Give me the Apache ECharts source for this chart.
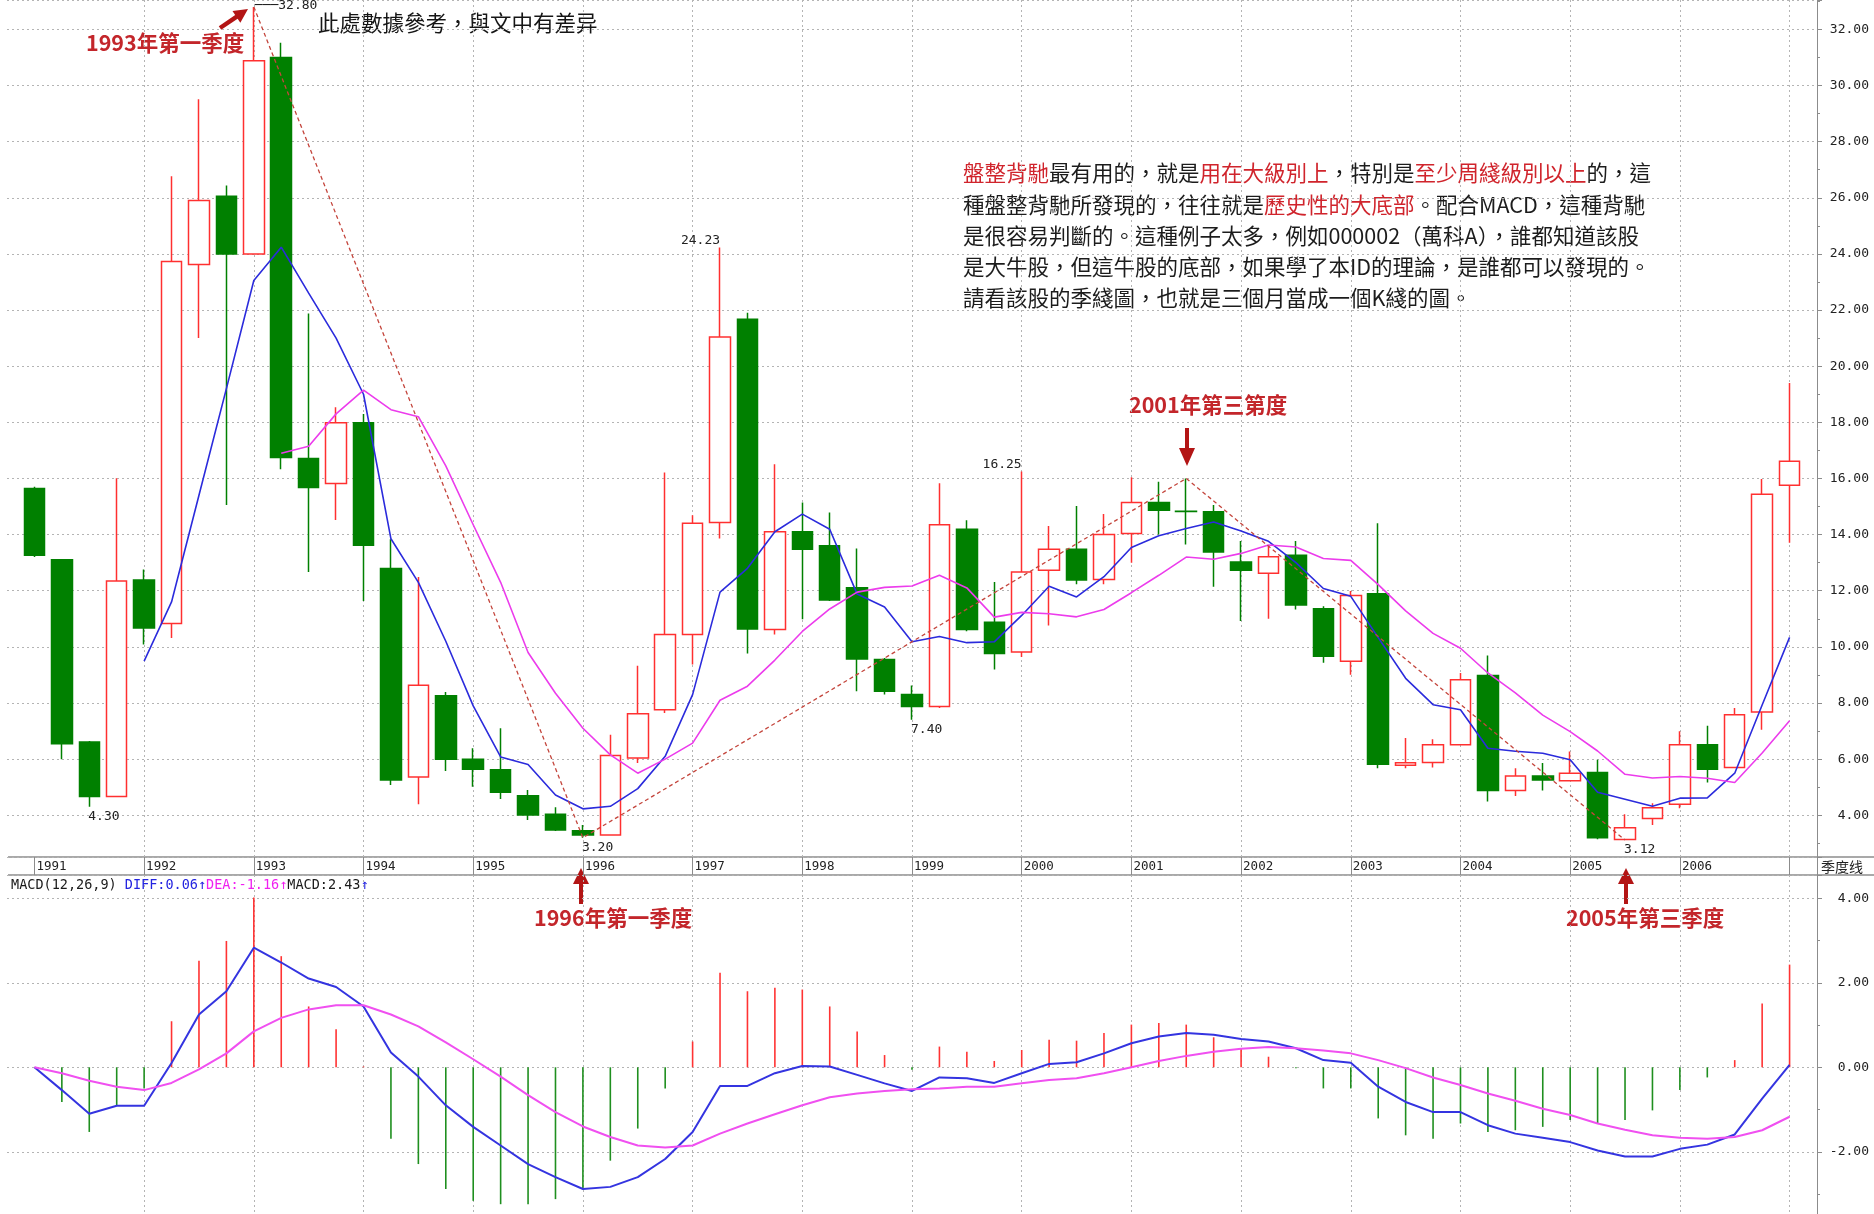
<!DOCTYPE html>
<html><head><meta charset="utf-8">
<script src="https://cdn.jsdelivr.net/npm/echarts@6/dist/echarts.min.js"></script>
<style>html,body{margin:0;padding:0;background:#fff}#c{width:1874px;height:1214px}</style>
</head><body><div id="c"></div>
<script>
// ---------- data ----------
const years = ['1991','1992','1993','1994','1995','1996','1997','1998','1999','2000','2001','2002','2003','2004','2005','2006','2007'];
const quarters = [];
years.forEach(y => { for (let q = 1; q <= 4; q++) { if (y === '2007' && q > 1) break; quarters.push(y + 'Q' + q); } });

const open  = [15.64,13.10,6.61,4.67, 12.38,10.83,23.62,26.05, 24.00,31.00,16.71,15.82, 17.98,12.79,5.36,8.26, 6.00,5.62,4.70,4.04,
               3.45,3.30,6.04,7.76, 10.44,14.43,21.67,10.62, 14.10,13.60,12.11,9.55, 8.30,7.88,14.19,10.88, 9.82,12.73,13.48,12.40,
               14.04,15.14,14.83,14.81, 13.02,12.62,13.26,11.36, 9.49,11.89,5.78,5.88, 6.51,8.98,4.88,5.40, 5.23,5.52,3.14,3.89,
               4.39,6.51,5.70,7.68, 15.76];
const close = [13.26,6.55,4.67,12.35, 10.67,23.73,25.90,24.00, 30.88,16.75,15.68,17.98, 13.62,5.26,8.63,6.00, 5.64,4.82,4.01,3.48,
               3.30,6.13,7.62,10.44, 14.40,21.04,10.64,14.10, 13.48,11.67,9.57,8.42, 7.88,14.35,10.62,9.76, 12.67,13.48,12.38,14.00,
               15.14,14.87,14.82,13.38, 12.73,13.21,11.49,9.67, 11.83,5.82,5.87,6.51, 8.83,4.88,5.40,5.26, 5.50,3.20,3.56,4.27,
               6.51,5.64,7.58,15.44, 16.61];
const low   = [13.20,6.00,4.30,4.67, 10.08,10.32,21.00,15.05, 24.00,16.33,12.67,14.52, 11.63,5.08,4.39,5.58, 5.02,4.58,3.83,3.44,
               3.20,3.28,5.86,7.64, 9.37,13.86,9.76,10.44, 10.98,11.63,8.42,8.30, 7.40,7.82,10.56,9.19, 9.64,10.76,12.23,12.23,
               13.00,14.00,13.65,12.14, 10.92,11.00,11.33,9.43, 9.01,5.68,5.68,5.70, 6.51,4.49,4.69,4.88, 5.20,3.15,3.12,3.65,
               4.25,5.17,5.70,7.05, 13.71];
const high  = [15.70,13.10,6.65,16.01, 12.76,26.77,29.51,26.44, 32.80,31.52,21.88,18.54, 18.30,13.83,12.49,8.39, 6.39,7.10,4.90,4.29,
               3.65,6.87,9.33,16.21, 14.69,24.23,21.90,16.51, 15.14,14.79,13.50,9.60, 8.62,15.83,14.51,12.31, 16.25,14.31,15.02,14.73,
               16.04,15.88,16.00,15.05, 13.77,13.60,13.77,11.45, 11.99,14.40,6.75,6.71, 9.07,9.69,5.68,5.86, 6.27,5.98,4.04,4.43,
               6.99,7.19,7.82,15.98, 19.40];

const ma5  = [null,null,null,null, 9.49,11.6,15.4,19.2, 23.05,24.24,22.6,21.0, 19.0,13.85,12.3,10.2, 7.9,6.08,5.81,4.72,
              4.23,4.32,4.95,6.1, 8.3,11.95,12.8,14.1, 14.73,14.19,11.88,11.42, 10.18,10.37,10.15,10.18, 11.12,12.16,11.78,12.5,
              13.54,13.96,14.22,14.45, 14.13,13.76,13.0,12.08, 11.8,10.33,8.88,7.94, 7.76,6.39,6.28,6.21, 5.98,4.82,4.57,4.32,
              4.61,4.62,5.5,7.93, 10.34];
const ma10 = [null,null,null,null, null,null,null,null, null,16.9,17.15,18.3, 19.15,18.45,18.2,16.45, 14.35,12.3,9.8,8.35,
              7.1,6.15,5.5,6.0, 6.57,8.1,8.6,9.53, 10.55,11.35,11.95,12.12, 12.17,12.55,12.1,11.06, 11.23,11.18,11.07,11.33,
              11.93,12.55,13.2,13.12, 13.33,13.63,13.56,13.15, 13.08,12.22,11.28,10.48, 9.95,9.07,8.36,7.57, 6.98,6.29,5.46,5.33,
              5.38,5.32,5.17,6.22, 7.37];

const macdHist = [0,-0.82,-1.53,-0.90,-0.50,1.09,2.52,2.99,4.02,2.63,
                  1.44,0.90,0.02,-1.69,-2.29,-2.88,-3.16,-3.24,-3.24,-3.12,
                  -2.88,-2.21,-1.45,-0.50,0.61,2.24,1.80,1.88,1.84,1.44,
                  0.85,0.29,-0.06,0.49,0.37,0.15,0.41,0.65,0.63,0.81,
                  1.01,1.05,1.01,0.71,0.45,0.25,-0.02,-0.50,-0.50,-1.21,
                  -1.61,-1.69,-1.33,-1.53,-1.49,-1.41,-1.25,-1.33,-1.25,-1.02,
                  -0.54,-0.24,0.17,1.51,2.43];
const diff = [0,-0.54,-1.10,-0.91,-0.91,0.10,1.25,1.80,2.83,2.48,
              2.10,1.90,1.44,0.35,-0.22,-0.90,-1.41,-1.85,-2.29,-2.60,
              -2.88,-2.83,-2.60,-2.17,-1.53,-0.44,-0.44,-0.14,0.03,0.02,
              -0.18,-0.38,-0.56,-0.24,-0.26,-0.37,-0.14,0.08,0.12,0.33,
              0.57,0.73,0.81,0.77,0.67,0.61,0.45,0.17,0.11,-0.46,
              -0.82,-1.06,-1.06,-1.37,-1.57,-1.67,-1.77,-1.97,-2.11,-2.11,
              -1.93,-1.83,-1.59,-0.74,0.06];
const dea = [0,-0.14,-0.32,-0.46,-0.54,-0.37,-0.05,0.33,0.85,1.17,
             1.37,1.47,1.47,1.25,0.97,0.59,0.19,-0.22,-0.66,-1.06,
             -1.40,-1.65,-1.85,-1.90,-1.85,-1.57,-1.33,-1.11,-0.90,-0.71,
             -0.62,-0.56,-0.52,-0.50,-0.46,-0.46,-0.38,-0.30,-0.26,-0.14,
             0.00,0.15,0.27,0.37,0.44,0.48,0.45,0.40,0.33,0.17,
             -0.02,-0.24,-0.42,-0.62,-0.79,-0.98,-1.13,-1.33,-1.48,-1.61,
             -1.67,-1.69,-1.65,-1.49,-1.17];

// divergence trend line vertices (quarter index, price)
const trendIdx = [8, 20, 42, 58];
const trendVal = [32.80, 3.20, 16.00, 3.12];

// extreme value labels
const extremeIdx  = [8, 25, 36, 32, 2, 20, 58];
const extremeVal  = [32.80, 24.23, 16.25, 7.40, 4.30, 3.20, 3.12];
const extremeKind = ['top', 'hi', 'hi', 'lo', 'lo', 'lo', 'lo'];

// ---------- build ----------
const cats = [''].concat(quarters, ['']);
const padL = a => ['-'].concat(a.map(v => v == null ? '-' : v), ['-']);
const kdata = [['-','-','-','-']];
for (let i = 0; i < quarters.length; i++) kdata.push([open[i], close[i], low[i], high[i]]);
kdata.push(['-','-','-','-']);
const trend = quarters.map(() => null);
trendIdx.forEach((k, j) => { trend[k] = trendVal[j]; });

const isYear = (i, v) => typeof v === 'string' && v.endsWith('Q1');
const MONO = "'DejaVu Sans Mono', monospace";
const CJK = "'Noto Sans CJK TC', 'Noto Sans CJK SC', sans-serif";
const RED_TXT = '#c3262b';
const ARROW = '#b31515';
const GRIDC = '#b4b4b4';

const markData = extremeIdx.map((k, j) => {
  const kind = extremeKind[j];
  let label;
  if (kind === 'top') label = {align: 'left', verticalAlign: 'middle', offset: [1, -1], formatter: '───' + extremeVal[j].toFixed(2)};
  else if (kind === 'hi') label = {align: 'right', verticalAlign: 'bottom', offset: [0, 0], formatter: extremeVal[j].toFixed(2)};
  else label = {align: 'left', verticalAlign: 'top', offset: [-1, 3], formatter: extremeVal[j].toFixed(2)};
  return {coord: [quarters[k], extremeVal[j]], label: label};
});

function arrowV(x, tipY, baseY, tailY, hw, sw) {
  return {type: 'polygon', silent: true, shape: {points: [
    [x - sw, tailY], [x - sw, baseY], [x - hw, baseY], [x, tipY], [x + hw, baseY], [x + sw, baseY], [x + sw, tailY]
  ]}, style: {fill: ARROW}};
}
function arrowD(tx, ty, px, py, hl, hw, sw) {
  const L = Math.hypot(px - tx, py - ty), dx = (px - tx) / L, dy = (py - ty) / L;
  const nx = -dy, ny = dx;
  const bx = px - hl * dx, by = py - hl * dy;
  return {type: 'polygon', silent: true, shape: {points: [
    [tx + sw * nx, ty + sw * ny], [bx + sw * nx, by + sw * ny], [bx + hw * nx, by + hw * ny], [px, py],
    [bx - hw * nx, by - hw * ny], [bx - sw * nx, by - sw * ny], [tx - sw * nx, ty - sw * ny]
  ]}, style: {fill: ARROW}};
}
const txt = (x, y, text, font, color) => ({type: 'text', x: x, y: y, silent: true,
  style: {text: text, fill: color, font: font, textVerticalAlign: 'middle'}});

const richStyles = {
  k: {fill: '#1c1c1c', font: '21.5px ' + CJK},
  r: {fill: '#d0242c', font: '21.5px ' + CJK}
};
const para = [
  '{r|盤整背馳}{k|最有用的，就是}{r|用在大級別上}{k|，特別是}{r|至少周綫級別以上}{k|的，這}',
  '{k|種盤整背馳所發現的，往往就是}{r|歷史性的大底部}{k|。配合MACD，這種背馳}',
  '{k|是很容易判斷的。這種例子太多，例如000002（萬科A），誰都知道該股}',
  '{k|是大牛股，但這牛股的底部，如果學了本ID的理論，是誰都可以發現的。}',
  '{k|請看該股的季綫圖，也就是三個月當成一個K綫的圖。}'
];
const paraY = [173, 205, 236, 267, 298];
const REDFONT = 'bold 21.5px ' + CJK;

const graphics = [
  {type: 'line', silent: true, shape: {x1: 8, y1: 857, x2: 1874, y2: 857}, style: {stroke: '#8c8c8c', lineWidth: 1.5}},
  {type: 'line', silent: true, shape: {x1: 8, y1: 875, x2: 1874, y2: 875}, style: {stroke: '#8c8c8c', lineWidth: 1.5}},
  {type: 'line', silent: true, shape: {x1: 1817.5, y1: 857, x2: 1817.5, y2: 875}, style: {stroke: '#8c8c8c', lineWidth: 1}},
  txt(1821, 867, '季度线', "14px 'Noto Sans CJK SC', sans-serif", '#222'),
  txt(86, 43, '1993年第一季度', REDFONT, RED_TXT),
  txt(318, 23, '此處數據參考，與文中有差异', '21.5px ' + CJK, '#151515'),
  txt(1129, 405, '2001年第三第度', REDFONT, RED_TXT),
  txt(534, 918, '1996年第一季度', REDFONT, RED_TXT),
  txt(1566, 918, '2005年第三季度', REDFONT, RED_TXT),
  arrowD(220, 28, 248, 9, 14, 7, 2.2),
  arrowV(1187, 466, 448, 428, 8, 2),
  arrowV(581, 868, 884, 904, 8, 2),
  arrowV(1626, 868, 884, 904, 8, 2),
  {type: 'text', x: 11, y: 885, silent: true, style: {
    text: '{k|MACD(12,26,9) }{b|DIFF:0.06↑}{m|DEA:-1.16↑}{k|MACD:2.43}{b|↑}',
    textVerticalAlign: 'middle',
    rich: {
      k: {fill: '#1a1a1a', font: '13.5px ' + MONO},
      b: {fill: '#2323e0', font: '13.5px ' + MONO},
      m: {fill: '#f020f0', font: '13.5px ' + MONO}
    }
  }}
];
para.forEach((t, i) => graphics.push({type: 'text', x: 963, y: paraY[i], silent: true,
  style: {text: t, rich: richStyles, textVerticalAlign: 'middle'}}));

const gridLine = {show: true, lineStyle: {color: GRIDC, type: [2, 3], width: 1}};
const yAxisCommon = {
  position: 'right', scale: false,
  axisLine: {show: true, lineStyle: {color: '#8c8c8c', width: 1}},
  axisTick: {show: true, length: 5, lineStyle: {color: '#8c8c8c'}},
  minorTick: {show: true, splitNumber: 2, length: 3, lineStyle: {color: '#8c8c8c'}},
  axisLabel: {show: true, align: 'right', margin: 52, color: '#222', fontFamily: MONO, fontSize: 13,
              showMinLabel: false, showMaxLabel: false, formatter: v => v.toFixed(2)},
  splitLine: gridLine
};

const option = {
  animation: false,
  backgroundColor: '#ffffff',
  grid: [
    {left: 7, right: 57, top: 0, height: 857},
    {left: 7, right: 57, top: 875, bottom: 0}
  ],
  xAxis: [
    {type: 'category', gridIndex: 0, data: cats, boundaryGap: false,
     axisLine: {show: false},
     axisTick: {show: true, interval: isYear, length: 18, lineStyle: {color: '#8c8c8c', width: 1}},
     axisLabel: {show: true, interval: (i, v) => isYear(i, v) && v !== '2007Q1', formatter: v => v.slice(0, 4),
                 align: 'left', verticalAlign: 'top', margin: 3, padding: [0, 0, 0, 2],
                 color: '#222', fontFamily: MONO, fontSize: 12.5},
     splitLine: {show: true, interval: (i, v) => isYear(i, v) && v !== '1991Q1', lineStyle: gridLine.lineStyle}},
    {type: 'category', gridIndex: 1, data: cats, boundaryGap: false, position: 'top',
     axisLine: {show: false}, axisTick: {show: false}, axisLabel: {show: false},
     splitLine: {show: true, interval: (i, v) => isYear(i, v) && v !== '1991Q1', lineStyle: gridLine.lineStyle}}
  ],
  yAxis: [
    Object.assign({type: 'value', gridIndex: 0, min: 2.514, max: 33.045, splitNumber: 15}, yAxisCommon),
    Object.assign({type: 'value', gridIndex: 1, min: -3.472, max: 4.551, splitNumber: 4}, yAxisCommon)
  ],
  series: [
    {type: 'candlestick', xAxisIndex: 0, yAxisIndex: 0, data: kdata, barWidth: 21,
     itemStyle: {color: '#ffffff', color0: '#008000', borderColor: '#ff3030', borderColor0: '#008000', borderWidth: 1.5},
     markPoint: {symbol: 'circle', symbolSize: 1, silent: true, animation: false,
                 itemStyle: {color: 'rgba(0,0,0,0)'},
                 label: {show: true, position: 'inside', color: '#222', fontFamily: MONO, fontSize: 13},
                 data: markData}},
    {type: 'line', name: 'MA5', xAxisIndex: 0, yAxisIndex: 0, data: padL(ma5), showSymbol: false, symbol: 'none',
     lineStyle: {color: '#2b2bdc', width: 1.6}, z: 3},
    {type: 'line', name: 'MA10', xAxisIndex: 0, yAxisIndex: 0, data: padL(ma10), showSymbol: false, symbol: 'none',
     lineStyle: {color: '#ec3cec', width: 1.6}, z: 3},
    {type: 'line', name: 'trend', xAxisIndex: 0, yAxisIndex: 0, data: padL(trend), connectNulls: true, showSymbol: false, symbol: 'none',
     lineStyle: {color: '#c4453c', width: 1.3, type: [4, 3]}, z: 4},
    {type: 'bar', xAxisIndex: 1, yAxisIndex: 1, data: padL(macdHist), barWidth: 1.6,
     itemStyle: {color: p => (p.value >= 0 ? '#ff3333' : '#1f8f1f')}},
    {type: 'line', name: 'DIFF', xAxisIndex: 1, yAxisIndex: 1, data: padL(diff), showSymbol: false, symbol: 'none',
     lineStyle: {color: '#3434e0', width: 2}, z: 3},
    {type: 'line', name: 'DEA', xAxisIndex: 1, yAxisIndex: 1, data: padL(dea), showSymbol: false, symbol: 'none',
     lineStyle: {color: '#f050f0', width: 2}, z: 3}
  ],
  graphic: graphics
};

const chart = echarts.init(document.getElementById('c'), null, {renderer: 'canvas'});
chart.setOption(option);
</script>
</body></html>
